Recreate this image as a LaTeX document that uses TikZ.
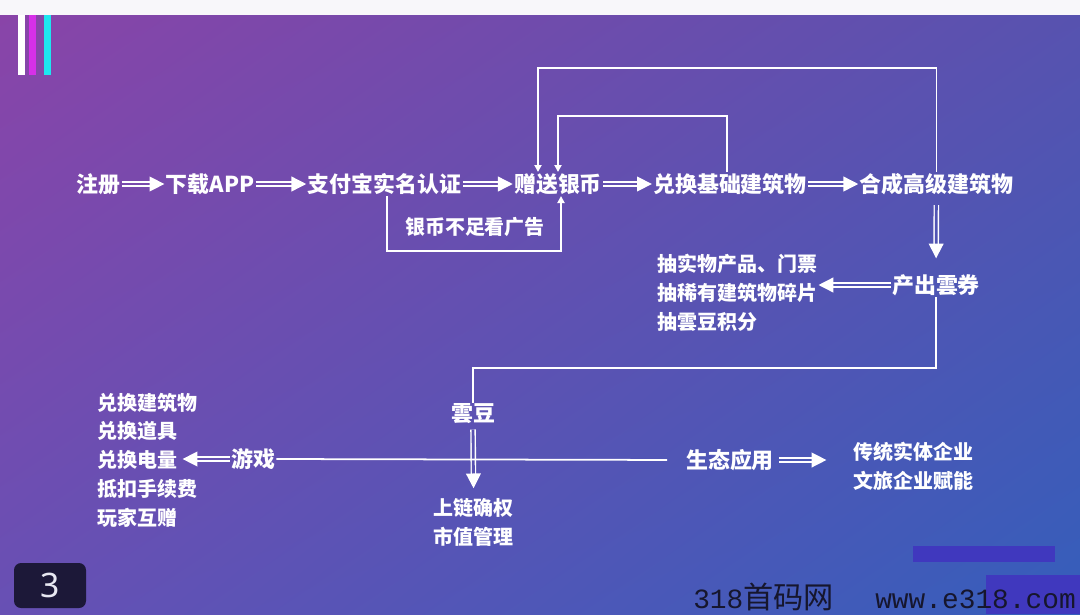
\documentclass[tikz,border=0pt]{standalone}
\usepackage{fontspec}
\setmainfont{Noto Sans CJK SC}
\newfontfamily\pagenumfont{Noto Sans}
\newfontfamily\wmmono{Liberation Mono}
\usetikzlibrary{arrows.meta,calc,positioning}
\definecolor{stripWhite}{RGB}{248,247,250}
\definecolor{barMagenta}{RGB}{214,48,232}
\definecolor{barCyan}{RGB}{30,230,240}
\definecolor{pageBox}{RGB}{28,24,56}
\definecolor{pageText}{RGB}{232,232,242}
\definecolor{barBlue}{RGB}{64,56,190}
\definecolor{markInk}{RGB}{22,22,45}
% core colours of the double arrows (background at that spot)
\definecolor{gapA}{RGB}{121,74,173}
\definecolor{gapB}{RGB}{115,75,173}
\definecolor{gapC}{RGB}{105,78,175}
\definecolor{gapD}{RGB}{99,80,176}
\definecolor{gapE}{RGB}{89,82,177}
\definecolor{gapF}{RGB}{81,85,179}
\definecolor{gapG}{RGB}{102,80,178}
\definecolor{gapH}{RGB}{75,87,182}
% purple (top left) to blue (bottom right)
\pgfdeclarefunctionalshading{slideGrad}{\pgfpointorigin}{\pgfpoint{100bp}{100bp}}{}{
  25 sub 50 div exch 25 sub 50 div exch
  2 copy 35 mul exch -50 mul add 103 add 255 div
  3 1 roll
  2 copy -12 mul exch 14 mul add 80 add 255 div
  3 1 roll
  -12 mul exch 7 mul add 180 add 255 div
}

\begin{document}
\begin{tikzpicture}[
  stepLabel/.style={text=white, inner sep=1pt, outer sep=0pt, font=\fontsize{15.6}{20}\selectfont\bfseries},
  listLabel/.style={text=white, inner sep=1pt, outer sep=0pt, align=left, anchor=west, font=\fontsize{14.2}{20.5}\selectfont\bfseries},
  dblArrow/.style={draw=white, line width=1pt, double=#1, double distance=2pt, -{Triangle[length=10.5pt,width=10.5pt]}},
  loopArrow/.style={draw=white, line width=1.25pt, -{Triangle[length=5pt,width=5pt]}},
  plainLine/.style={draw=white, line width=1.25pt}
]
\useasboundingbox (0,0) rectangle (27,-15.35);
\shade[shading=slideGrad] (0,0) rectangle (27,-15.35);
\fill[stripWhite] (0,0) rectangle (27,-0.375);
\fill[white] (0.45,-0.375) rectangle (0.625,-1.875);
\fill[barMagenta] (0.725,-0.375) rectangle (0.9,-1.875);
\fill[barCyan] (1.1,-0.375) rectangle (1.275,-1.875);

% page number and corner bars
\node[fill=pageBox, rounded corners=5pt, minimum width=1.8cm, minimum height=1.125cm, inner sep=0pt,
  text=pageText, font=\pagenumfont\fontsize{24}{24}\selectfont] (pageNo) at (1.25,-14.6375) {3};
\fill[barBlue] (22.825,-13.65) rectangle (26.375,-14.05);
\fill[barBlue] (24.65,-14.375) rectangle (27,-15.35);
\node[anchor=base west, inner sep=0pt, text=markInk, font=\fontsize{21.5}{22}\selectfont] (markName) at (17.325,-15.2) {{\wmmono\fontsize{19.8}{22}\selectfont 318}首码网};
\node[anchor=base west, inner sep=0pt, text=markInk, font=\wmmono\fontsize{19.8}{22}\selectfont] (markSite) at (21.875,-15.2) {www.e318.com};

% main row
\node[stepLabel] (reg) at (2.46,-4.6) {注册};
\node[stepLabel] (dl) at (5.25,-4.6) {下载APP};
\node[stepLabel] (alipay) at (9.61,-4.6) {支付宝实名认证};
\node[stepLabel] (gift) at (13.95,-4.6) {赠送银币};
\node[stepLabel] (basic) at (18.25,-4.6) {兑换基础建筑物};
\node[stepLabel] (adv) at (23.41,-4.6) {合成高级建筑物};
\node[listLabel, anchor=center] (ad) at (11.875,-5.675) {银币不足看广告};

% coupon and bean
\node[stepLabel] (coupon) at (23.4,-7.125) {产出雲券};
\node[listLabel] (lottery) at (16.4,-7.325) {抽实物产品、门票\\抽稀有建筑物碎片\\抽雲豆积分};
\node[stepLabel] (bean) at (11.825,-10.35) {雲豆};
\node[listLabel, anchor=center, align=center] (chain) at (11.84,-13.05) {上链确权\\市值管理};
\node[stepLabel] (game) at (6.325,-11.475) {游戏};
\node[listLabel] (gamelist) at (2.4,-11.5) {兑换建筑物\\兑换道具\\兑换电量\\抵扣手续费\\玩家互赠};
\node[stepLabel] (eco) at (18.25,-11.5) {生态应用};
\node[listLabel] (ecolist) at (21.3,-11.65) {传统实体企业\\文旅企业赋能};

\coordinate (bigTop) at (0,-1.7);
\coordinate (smallTop) at (0,-2.9);
\coordinate (adBottom) at (0,-6.275);
\coordinate (beanTurn) at (0,-9.2);

\draw[dblArrow=gapA] (reg) -- (dl);
\draw[dblArrow=gapB] (dl) -- (alipay);
\draw[dblArrow=gapC] (alipay) -- (gift);
\draw[dblArrow=gapD] (gift) -- (basic);
\draw[dblArrow=gapE] (basic) -- (adv);

\draw[loopArrow] (adv.north) -- (adv.north |- bigTop) -| ([xshift=-0.5cm]gift.north);
\draw[loopArrow] ([xshift=-0.075cm]basic.north) -- ([xshift=-0.075cm]basic.north |- smallTop) -| (gift.north);
\draw[loopArrow] ([xshift=0.06cm]alipay.south) -- ([xshift=0.06cm]alipay.south |- adBottom) -| ([xshift=0.075cm]gift.south);

\draw[dblArrow=gapF, shorten <=0.225cm, shorten >=0.365cm] (adv.south) -- (coupon.north);
\draw[dblArrow=gapF] (coupon.west) -- (coupon.west -| lottery.east);
\draw[plainLine] (coupon.south) -- (coupon.south |- beanTurn) -| (bean.north);
\draw[dblArrow=gapE, shorten <=0.1cm, shorten >=0.21cm] (bean.south) -- (chain.north);
\draw[plainLine, shorten >=0.44cm] (game.east) -- (eco.west);
\draw[dblArrow=gapG, shorten >=-0.4cm] (game.west) -- (game.west -| gamelist.east);
\draw[dblArrow=gapH, shorten <=0.09cm, shorten >=0.64cm] (eco.east) -- (eco.east -| ecolist.west);
\end{tikzpicture}
\end{document}
